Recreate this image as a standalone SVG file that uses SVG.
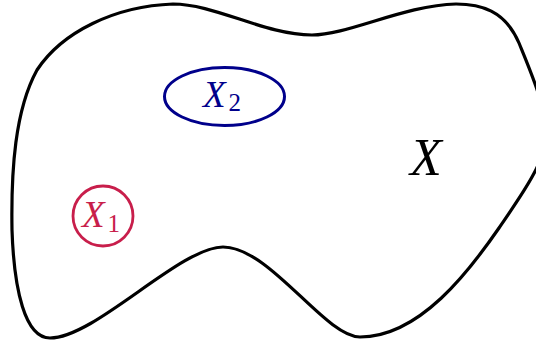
<svg xmlns="http://www.w3.org/2000/svg" width="536" height="347" viewBox="0 0 536 347">
<style>
text{font-family:'Liberation Serif','Times New Roman',serif;font-style:italic}
.sub{font-style:normal}
</style>
<rect width="536" height="347" fill="#fff"/>
<g id="X">
<path d="M 12,230 C 11,170 15,110 37,70 C 62,32 115,6 173,4 C 215,4 265,35 312,35 C 348,35 405,5 456,4 C 480,4 505,10 519,43 C 530,70 545,105 546,130 C 547,160 525,190 499,228 C 470,270 420,337 360,337 C 325,337 270,247 223,247 C 180,247 95,338 50,338 C 25,338 14,290 12,230 Z" fill="none" stroke="#000" stroke-width="3.2"/>
<text x="426" y="175" font-size="52" text-anchor="middle" fill="#000">X</text>
</g>
<g id="X1">
<circle cx="103" cy="216" r="30" fill="none" stroke="#C81E4B" stroke-width="2.8"/>
<text x="82" y="227" font-size="37" fill="#C81E4B">X<tspan class="sub" font-size="25" dx="3" dy="5">1</tspan></text>
</g>
<g id="X2">
<ellipse cx="224.5" cy="96.5" rx="60" ry="29" fill="none" stroke="#00008B" stroke-width="3"/>
<text x="203" y="107" font-size="37" fill="#00008B">X<tspan class="sub" font-size="25" dx="3" dy="4">2</tspan></text>
</g>
</svg>
